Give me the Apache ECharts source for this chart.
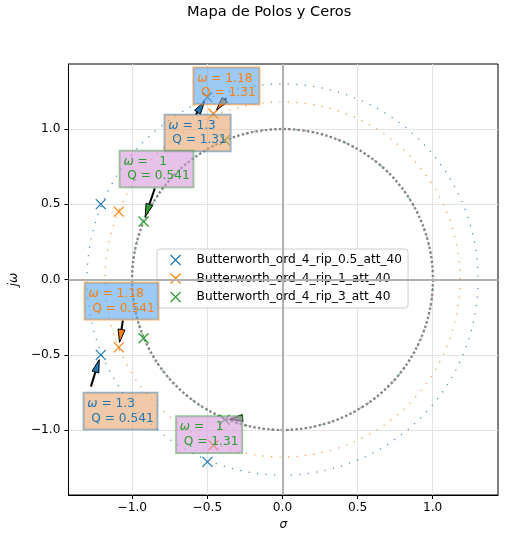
<!DOCTYPE html>
<html><head><meta charset="utf-8">
<script src="https://cdn.jsdelivr.net/npm/echarts@6/dist/echarts.min.js"></script>
<style>html,body{margin:0;padding:0;background:#fff}#c{width:506px;height:541px}</style>
</head><body><div id="c"></div>
<script>
// ---- data ----
const seriesNames = ['Butterworth_ord_4_rip_0.5_att_40', 'Butterworth_ord_4_rip_1_att_40', 'Butterworth_ord_4_rip_3_att_40'];
const colors = ['#1f77b4', '#ff7f0e', '#2ca02c'];
const polesRip05 = [[-1.21, 0.50], [-1.21, -0.50], [-0.50, 1.21], [-0.50, -1.21]];
const polesRip1 = [[-1.09, 0.45], [-1.09, -0.45], [-0.46, 1.10], [-0.46, -1.10]];
const polesRip3 = [[-0.925, 0.385], [-0.925, -0.39], [-0.385, 0.925], [-0.385, -0.93]];
const circleRadii = [1.30, 1.18, 1.00];
const unitCircleRadius = [1.0];
const xTicks = [-1.0, -0.5, 0.0, 0.5, 1.0];
const yTicks = [-1.0, -0.5, 0.0, 0.5, 1.0];
// annotations
const annSeries = [0, 0, 1, 1, 2, 2];
const annOmega = ['1.3', '1.3', '1.18', '1.18', '  1', '  1'];
const annQ = ['1.31', '0.541', '1.31', '0.541', '0.541', '1.31'];
const annBox = [[-0.785, 1.094], [-1.324, -0.752], [-0.593, 1.406], [-1.317, -0.022], [-1.084, 0.855], [-0.708, -0.908]];
const annArrowFrom = [[-0.577, 1.094], [-1.276, -0.711], [-0.375, 1.203], [-1.063, -0.272], [-0.850, 0.605], [-0.269, -0.920]];
const annTarget = [[-0.50, 1.21], [-1.21, -0.50], [-0.46, 1.10], [-1.09, -0.45], [-0.925, 0.385], [-0.385, -0.93]];

// ---- styles ----
const FONT = 'DejaVu Sans';
const FS = 12.2;
const boxBg = ['rgba(233,165,110,0.6)', 'rgba(90,167,238,0.6)', 'rgba(213,152,220,0.6)'];
const boxEdge = ['rgba(31,119,180,0.55)', 'rgba(255,127,14,0.6)', 'rgba(44,160,44,0.55)'];
const circleStroke = ['rgba(31,119,180,0.85)', 'rgba(255,127,14,0.85)', 'rgba(44,160,44,0.85)'];
const xMark = 'path://M0,0L10,10M10,0L0,10';
const fmt = v => (Math.abs(v) < 1e-9 ? 0 : v).toFixed(1).replace('-', '\u2212');

const chart = echarts.init(document.getElementById('c'), null, {renderer: 'canvas'});

function circleItem(strokeFn, widthFn, dashFn) {
  return function (params, api) {
    const c = api.coord([api.value(0), api.value(1)]);
    const sz = api.size([api.value(2), api.value(2)]);
    const r = (sz[0] + sz[1]) / 2;
    return {
      type: 'circle',
      shape: {cx: c[0], cy: c[1], r: r},
      style: {fill: 'none', stroke: strokeFn(params.dataIndex), lineWidth: widthFn(params.dataIndex), lineDash: dashFn(params.dataIndex)}
    };
  };
}

const poleSets = [polesRip05, polesRip1, polesRip3];

const option = {
  animation: false,
  title: {
    text: 'Mapa de Polos y Ceros', left: 187, top: 5, padding: 0,
    textStyle: {fontFamily: FONT, fontSize: 14.6, fontWeight: 'normal', color: '#000'}
  },
  grid: {left: 68, right: 8, top: 64, bottom: 46, show: true, borderColor: '#000', borderWidth: 1, containLabel: false},
  xAxis: {
    type: 'value', min: -1.425, max: 1.435, splitNumber: 5,
    name: 'σ', nameLocation: 'middle', nameGap: 22,
    nameTextStyle: {fontFamily: FONT, fontSize: FS, fontStyle: 'italic', color: '#000'},
    axisLine: {show: true, onZero: false, lineStyle: {color: '#000', width: 1}},
    axisTick: {show: true, inside: false, length: 4, customValues: xTicks, lineStyle: {color: '#000'}},
    axisLabel: {customValues: xTicks, formatter: fmt, fontFamily: FONT, fontSize: FS, color: '#000', margin: 7},
    splitLine: {show: true, lineStyle: {color: '#e4e4e4', width: 1}}
  },
  yAxis: {
    type: 'value', min: -1.43, max: 1.43, splitNumber: 5,
    name: 'jω', nameLocation: 'middle', nameGap: 46,
    nameTextStyle: {fontFamily: FONT, fontSize: FS, fontStyle: 'italic', color: '#000'},
    axisLine: {show: true, onZero: false, lineStyle: {color: '#000', width: 1}},
    axisTick: {show: true, inside: false, length: 4, customValues: yTicks, lineStyle: {color: '#000'}},
    axisLabel: {customValues: yTicks, formatter: fmt, fontFamily: FONT, fontSize: FS, color: '#000', margin: 8},
    splitLine: {show: true, lineStyle: {color: '#e4e4e4', width: 1}}
  },
  legend: {
    orient: 'vertical', left: 157, top: 249, padding: [5, 6, 5, 13], itemGap: 6.5,
    itemWidth: 10, itemHeight: 10, symbolKeepAspect: true,
    backgroundColor: 'rgba(255,255,255,0.85)', borderColor: '#cccccc', borderWidth: 1, borderRadius: 3,
    textStyle: {fontFamily: FONT, fontSize: FS, color: '#000', padding: [0, 0, 0, 11]},
    itemStyle: {borderWidth: 1.2},
    data: seriesNames.map(n => ({name: n, icon: xMark}))
  },
  series: [
    {
      type: 'line', data: [], silent: true, z: 1,
      markLine: {
        silent: true, symbol: 'none', label: {show: false}, animation: false,
        lineStyle: {color: '#b0b0b0', width: 2, type: 'solid'},
        data: [{xAxis: 0}, {yAxis: 0}]
      }
    },
    {
      type: 'custom', silent: true, z: 2,
      data: circleRadii.map(r => [0, 0, r]),
      renderItem: circleItem(i => circleStroke[i], i => 1.2, i => [1.2, 7.3])
    },
    {
      type: 'custom', silent: true, z: 3,
      data: unitCircleRadius.map(r => [0, 0, r]),
      renderItem: circleItem(i => 'rgba(115,115,115,0.85)', i => 2.4, i => [2.4, 2.3])
    },
    ...seriesNames.map((n, s) => ({
      type: 'scatter', name: n, data: poleSets[s], symbol: xMark, symbolSize: 10, symbolKeepAspect: true,
      silent: true, z: 5,
      itemStyle: {color: colors[s], borderColor: colors[s], borderWidth: 1.2, opacity: 1}
    })),
    {
      type: 'custom', silent: true, z: 10,
      data: annSeries.map((s, i) => [annBox[i][0], annBox[i][1]]),
      renderItem: function (params, api) {
        const i = params.dataIndex;
        const s = annSeries[i];
        const c = colors[s];
        const B = api.coord(annBox[i]);
        const S = api.coord(annArrowFrom[i]);
        const P = api.coord(annTarget[i]);
        const dx = S[0] - P[0], dy = S[1] - P[1];
        const d = Math.hypot(dx, dy);
        const ux = dx / d, uy = dy / d;
        const shrink = 5, L = 13, W = 7;
        const T = [P[0] + ux * shrink, P[1] + uy * shrink];
        const Bc = [T[0] + ux * L, T[1] + uy * L];
        const nx = -uy, ny = ux;
        const children = [];
        if (d - shrink > L) {
          children.push({type: 'line', shape: {x1: S[0], y1: S[1], x2: Bc[0], y2: Bc[1]}, style: {stroke: '#000', lineWidth: 2}});
        }
        children.push({
          type: 'polygon',
          shape: {points: [T, [Bc[0] + nx * W / 2, Bc[1] + ny * W / 2], [Bc[0] - nx * W / 2, Bc[1] - ny * W / 2]]},
          style: {fill: c, stroke: '#000', lineWidth: 1}
        });
        children.push({
          type: 'text', x: B[0], y: B[1],
          style: {
            text: '{w|ω} = ' + annOmega[i] + '\n Q = ' + annQ[i],
            fontFamily: FONT, fontSize: FS, fill: c, lineHeight: 14.6,
            align: 'left', verticalAlign: 'top',
            backgroundColor: boxBg[s], borderColor: boxEdge[s], borderWidth: 1, padding: [3.7, 3.7, 3.7, 3.7],
            rich: {w: {fontFamily: FONT, fontSize: FS, fontStyle: 'italic', fill: c, lineHeight: 14.6}}
          }
        });
        return {type: 'group', children: children};
      }
    }
  ]
};
chart.setOption(option);
</script>
</body></html>
